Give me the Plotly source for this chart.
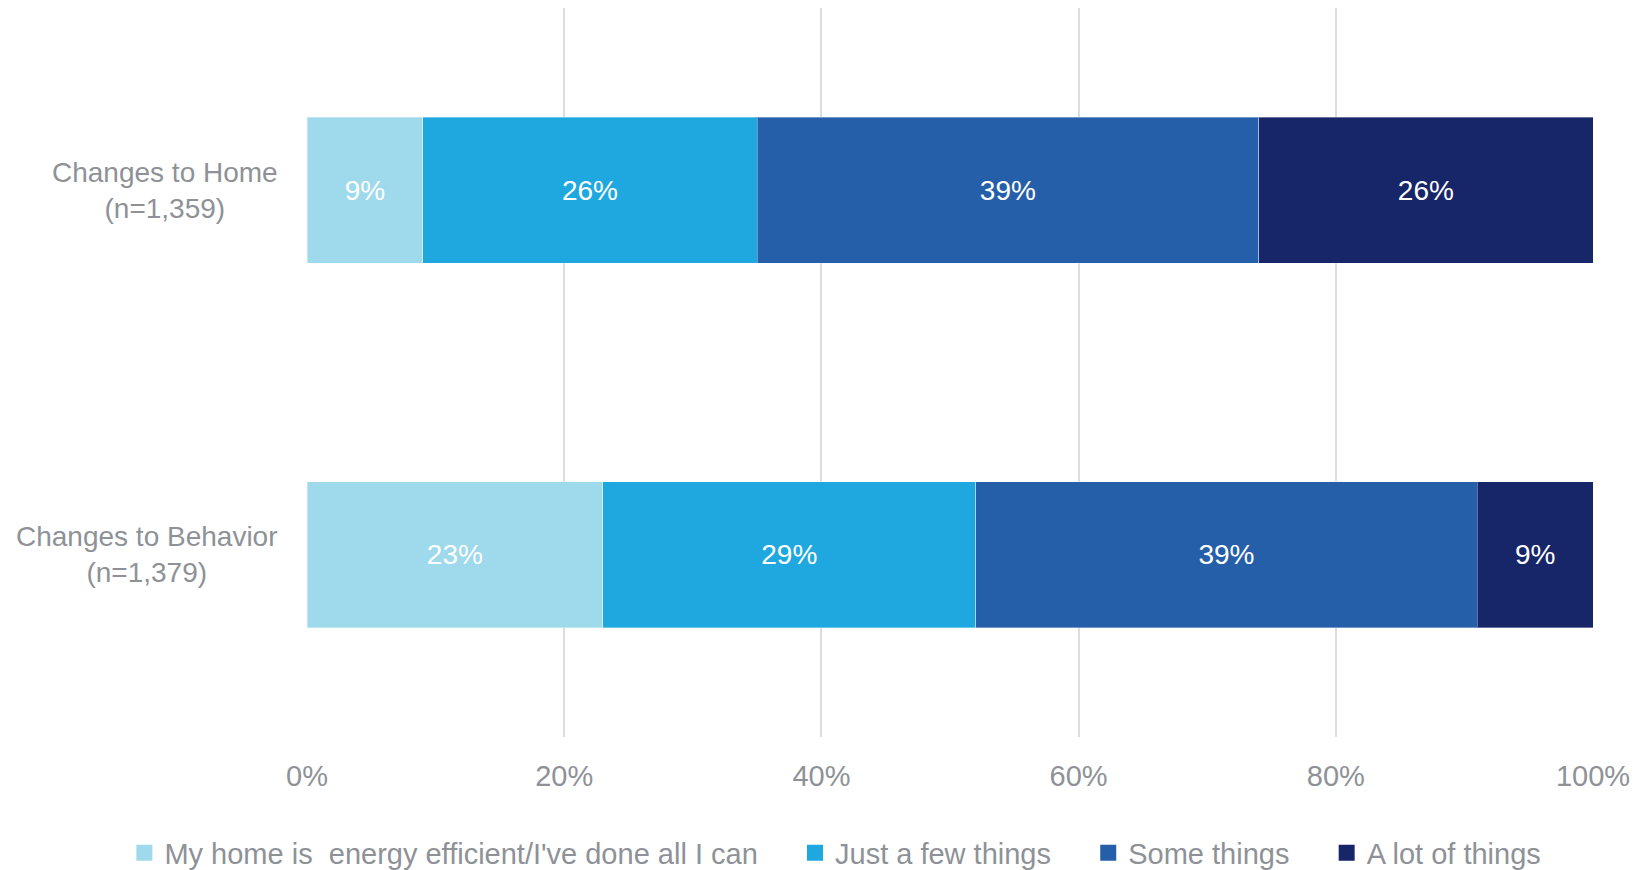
import plotly.graph_objects as go

# Survey groups (top to bottom) and their sample sizes
groups = ["Changes to Home", "Changes to Behavior"]
sample_sizes = ["1,359", "1,379"]

# Response categories, in stacking order
responses = [
    "My home is \u00a0energy efficient/I've done all I can",
    "Just a few things",
    "Some things",
    "A lot of things",
]

# Share of respondents (%) per response, one value per group
efficient_share = [9, 23]
few_things_share = [26, 29]
some_things_share = [39, 39]
lot_of_things_share = [26, 9]

shares = [efficient_share, few_things_share, some_things_share, lot_of_things_share]
colors = ["#9ED9EC", "#1FA8E0", "#255FA9", "#172668"]

x_ticks = [0, 20, 40, 60, 80, 100]

FONT = "Liberation Sans, Arial, sans-serif"
GREY = "#8E9297"
PAD = "\u00a0" * 4  # extra breathing room between legend entries

fig = go.Figure()
for name, vals, col in zip(responses, shares, colors):
    fig.add_trace(
        go.Bar(
            y=groups,
            x=vals,
            name=name,
            orientation="h",
            showlegend=False,
            marker=dict(color=col, line=dict(color="rgba(255,255,255,0.35)", width=1)),
            text=[f"{v}%" for v in vals],
            textposition="inside",
            insidetextanchor="middle",
            textangle=0,
            textfont=dict(color="white", size=28, family=FONT),
            hoverinfo="skip",
        )
    )

# Legend entries with larger square swatches
for i, (name, col) in enumerate(zip(responses, colors)):
    label = name if i == len(responses) - 1 else name + PAD
    fig.add_trace(
        go.Scatter(
            x=[None],
            y=[None],
            mode="markers",
            name=label,
            marker=dict(symbol="square", size=16, color=col),
            showlegend=True,
            hoverinfo="skip",
        )
    )

# Group labels, centred line-by-line and right-aligned against the plot
for g, n in zip(groups, sample_sizes):
    fig.add_annotation(
        xref="paper",
        yref="y",
        x=-0.021,
        y=g,
        text=f"{g}<br>(n={n})",
        showarrow=False,
        xanchor="right",
        yanchor="middle",
        align="center",
        font=dict(size=28, color=GREY, family=FONT),
    )

fig.update_layout(
    barmode="stack",
    bargap=0.6,
    width=1648,
    height=870,
    margin=dict(l=307, r=55, t=8, b=133, autoexpand=False),
    paper_bgcolor="white",
    plot_bgcolor="white",
    font=dict(family=FONT, size=28, color=GREY),
    showlegend=True,
    legend=dict(
        orientation="h",
        xref="paper",
        yref="paper",
        x=-0.142,
        xanchor="left",
        y=-0.159,
        yanchor="middle",
        itemsizing="trace",
        font=dict(size=29, color=GREY, family=FONT),
        traceorder="normal",
        itemclick=False,
        itemdoubleclick=False,
    ),
    xaxis=dict(
        range=[0, 100],
        tickvals=x_ticks,
        ticktext=[f"{t}%" for t in x_ticks],
        showgrid=True,
        gridcolor="#DCDDDE",
        gridwidth=1.5,
        zeroline=False,
        showline=False,
        ticks="",
        ticklabelstandoff=19,
        tickfont=dict(size=29, color=GREY, family=FONT),
        fixedrange=True,
    ),
    yaxis=dict(
        categoryorder="array",
        categoryarray=groups,
        autorange="reversed",
        showticklabels=False,
        showgrid=False,
        zeroline=False,
        showline=False,
        ticks="",
        fixedrange=True,
    ),
)

fig.write_html("out.html")
